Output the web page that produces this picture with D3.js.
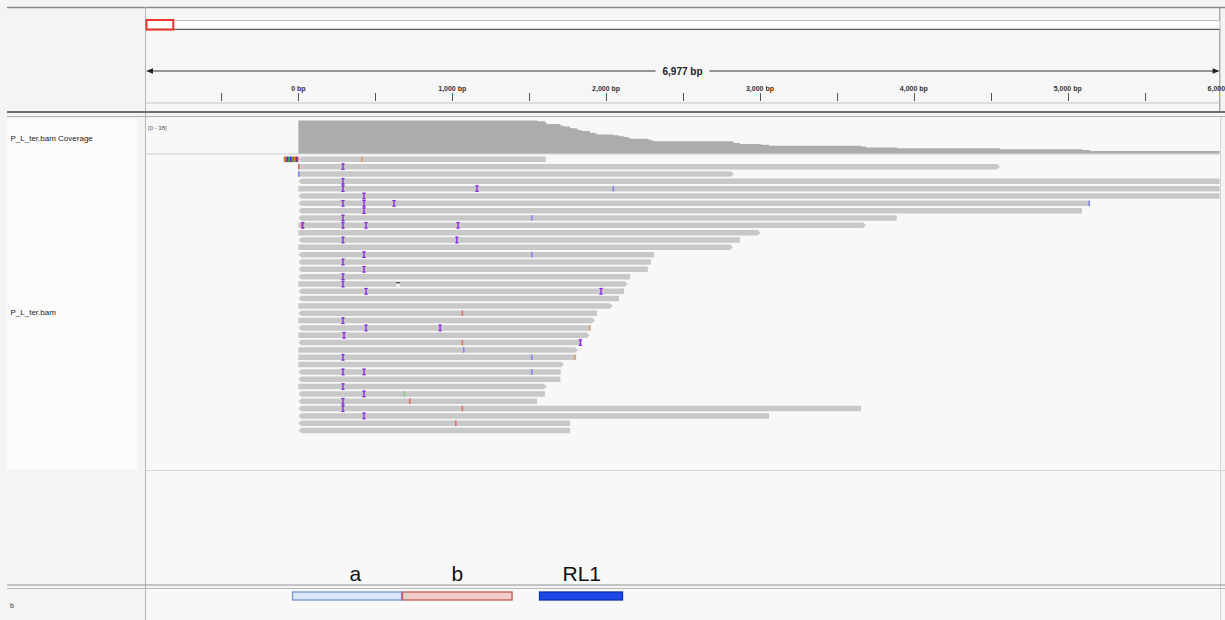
<!DOCTYPE html>
<html>
<head>
<meta charset="utf-8">
<script src="https://cdn.jsdelivr.net/npm/d3@7"></script>
<style>
  html, body { margin: 0; padding: 0; background: #f4f4f4; }
  svg { display: block; font-family: "Liberation Sans", Arial, Helvetica, sans-serif; }
</style>
</head>
<body>
<svg id="igv" width="1225" height="620"></svg>
<script>
// ---- locus / ruler ----
const viewStart = -990;
const viewEnd = 5987;
const spanLabel = "6,977 bp";
const rulerTicks = [-500, 0, 500, 1000, 1500, 2000, 2500, 3000, 3500, 4000, 4500, 5000, 5500];
const labelTicks = [0, 1000, 2000, 3000, 4000, 5000, 6000];
const tickLabels = ["0 bp", "1,000 bp", "2,000 bp", "3,000 bp", "4,000 bp", "5,000 bp", "6,000 bp"];

// ---- alignments (one read per row) ----
const readStarts = [-95, 0, 0, 0, 0, 0, 0, 0, 0, 0, 0, 0, 0, 0, 0, 0, 0, 0, 0,
                    0, 0, 0, 0, 0, 0, 0, 0, 0, 0, 0, 0, 0, 0, 0, 0, 0, 0, 0];
const readEnds = [1608, 4560, 2831, 6500, 6800, 7000, 5145, 5093, 3889, 3689, 3005, 2870, 2825,
                  2312, 2292, 2271, 2156, 2141, 2117, 2084, 2043, 1941, 1928, 1896, 1893, 1842,
                  1818, 1811, 1727, 1705, 1703, 1614, 1603, 1551, 3657, 3059, 1766, 1766];
const readStrands = ["-", "+", "+", "-", "+", "-", "-", "-", "-", "+", "+", "-", "+",
                     "-", "-", "-", "-", "+", "-", "-", "+", "-", "+", "-", "+", "-",
                     "+", "+", "+", "-", "-", "+", "-", "-", "-", "-", "-", "-"];
const softClipBases = ["G", "T", "C", "A", "C", "T", "A", "G", "C", "T"];

// insertions: row index / position
const insertionRows = [1, 3, 4, 4, 5, 6, 6, 6, 7, 8, 9, 9, 9, 9, 11, 11, 13, 14, 15, 16, 17,
                       18, 18, 22, 23, 23, 24, 25, 27, 29, 29, 31, 32, 33, 34, 35];
const insertionPos = [290, 290, 290, 1161, 427, 290, 427, 622, 427, 290, 29, 290, 440, 1038, 290, 1030, 427, 290, 427, 290, 290,
                      440, 1967, 290, 440, 921, 297, 1833, 290, 290, 427, 290, 427, 290, 290, 427];

// mismatches: row index / position / base
const mismatchRows = [0, 1, 2, 4, 6, 8, 9, 13, 21, 23, 25, 26, 27, 27, 29, 32, 33, 34, 36];
const mismatchPos = [412, 3, 3, 2047, 5140, 1517, 22, 1517, 1066, 1894, 1066, 1075, 1517, 1798, 1517, 689, 724, 1066, 1023];
const mismatchBases = ["G", "T", "C", "C", "C", "C", "T", "C", "T", "G", "T", "C", "C", "G", "C", "A", "T", "T", "T"];

// deletions
const deletionRows = [17];
const deletionPos = [648];

// ---- feature track ----
const featureNames = ["a", "b", "RL1"];
const featureStarts = [-41, 674, 1564];
const featureEnds = [674, 1392, 2110];
const featureLabelPos = [370, 1033, 1842];
const featureFills = ["#dbe5f5", "#f3cbc8", "#1d47e6"];
const featureStrokes = ["#7596cc", "#b85a55", "#0b2fb8"];

const baseColors = { A: "#80d080", C: "#8585f0", G: "#d2a46c", T: "#e56a6a" };

const svg = d3.select("#igv");

// ---- geometry ----
const dataLeft = 146, dataRight = 1219.6;
const x = d3.scaleLinear().domain([viewStart, viewEnd]).range([dataLeft, dataRight]);
const nRows = readEnds.length;
const rowStep = 7.33;
const rowH = 5.5;
const rowY = d3.scaleLinear().domain([0, nRows]).range([156.6, 156.6 + nRows * rowStep]);

// ---- background panels ----
svg.append("rect").attr("width", 1225).attr("height", 620).attr("fill", "#f4f4f4");
svg.append("rect").attr("x", dataLeft).attr("y", 8).attr("width", dataRight - dataLeft).attr("height", 104).attr("fill", "#f6f6f6");
svg.append("rect").attr("x", 7).attr("y", 119).attr("width", 130).attr("height", 350).attr("fill", "#fbfbfb");
svg.append("rect").attr("x", dataLeft).attr("y", 118).attr("width", dataRight - dataLeft).attr("height", 467).attr("fill", "#f8f8f8");
svg.append("rect").attr("x", dataLeft).attr("y", 589).attr("width", 1225 - dataLeft).attr("height", 31).attr("fill", "#f8f8f8");

// frame lines
svg.append("line").attr("x1", 7).attr("x2", 1225).attr("y1", 7.5).attr("y2", 7.5).attr("stroke", "#8a8a8a").attr("stroke-width", 1.5);
svg.append("line").attr("x1", 145.5).attr("x2", 145.5).attr("y1", 7).attr("y2", 620).attr("stroke", "#b5b5b5");
svg.append("line").attr("x1", 1219.8).attr("x2", 1219.8).attr("y1", 7).attr("y2", 112).attr("stroke", "#8a8a8a");
svg.append("line").attr("x1", 1220.5).attr("x2", 1220.5).attr("y1", 117).attr("y2", 620).attr("stroke", "#d4d4d4");
svg.append("line").attr("x1", 7).attr("x2", 1225).attr("y1", 112).attr("y2", 112).attr("stroke", "#6e6e6e").attr("stroke-width", 2);
svg.append("line").attr("x1", 7).attr("x2", 1225).attr("y1", 116.5).attr("y2", 116.5).attr("stroke", "#b0b0b0");
svg.append("line").attr("x1", dataLeft).attr("x2", dataRight).attr("y1", 154).attr("y2", 154).attr("stroke", "#d0d0d0");
svg.append("line").attr("x1", dataLeft).attr("x2", 1225).attr("y1", 470.5).attr("y2", 470.5).attr("stroke", "#d6d6d6");
svg.append("line").attr("x1", 7).attr("x2", 1225).attr("y1", 585).attr("y2", 585).attr("stroke", "#8f8f8f").attr("stroke-width", 1.2);
svg.append("line").attr("x1", 7).attr("x2", 1225).attr("y1", 588.5).attr("y2", 588.5).attr("stroke", "#b8b8b8");

// ---- chromosome ideogram ----
svg.append("rect").attr("x", dataLeft).attr("y", 20.5).attr("width", dataRight - dataLeft).attr("height", 8.5)
  .attr("fill", "#ffffff");
svg.append("line").attr("x1", dataLeft).attr("x2", dataRight).attr("y1", 20.5).attr("y2", 20.5).attr("stroke", "#bdbdbd");
svg.append("line").attr("x1", dataLeft).attr("x2", dataRight).attr("y1", 29.3).attr("y2", 29.3).attr("stroke", "#5a5a5a").attr("stroke-width", 1.3);
svg.append("rect").attr("x", 146.5).attr("y", 20).attr("width", 26.8).attr("height", 9.6)
  .attr("fill", "none").attr("stroke", "#e8372c").attr("stroke-width", 2);

// ---- ruler ----
const ruler = svg.append("g");
ruler.append("line").attr("x1", dataLeft + 4).attr("x2", dataRight - 4).attr("y1", 71).attr("y2", 71)
  .attr("stroke", "#333").attr("stroke-width", 1);
ruler.append("path").attr("d", `M${dataLeft},71 L${dataLeft + 7},68.3 L${dataLeft + 7},73.7 Z`).attr("fill", "#222");
ruler.append("path").attr("d", `M${dataRight},71 L${dataRight - 7},68.3 L${dataRight - 7},73.7 Z`).attr("fill", "#222");
const mid = (dataLeft + dataRight) / 2 - 0.3;
ruler.append("rect").attr("x", mid - 27).attr("y", 64).attr("width", 54).attr("height", 14).attr("fill", "#f6f6f6");
ruler.append("text").attr("x", mid).attr("y", 74.6).attr("text-anchor", "middle")
  .attr("font-size", 10).attr("font-weight", "bold").attr("fill", "#222").text(spanLabel);

ruler.append("line").attr("x1", dataLeft).attr("x2", dataRight).attr("y1", 103).attr("y2", 103)
  .attr("stroke", "#c4c4c4");
ruler.selectAll("line.tick").data(rulerTicks.concat(labelTicks.filter(v => rulerTicks.indexOf(v) < 0 && x(v) < dataRight)))
  .join("line").attr("class", "tick")
  .attr("x1", d => Math.round(x(d)) + 0.5).attr("x2", d => Math.round(x(d)) + 0.5)
  .attr("y1", 93).attr("y2", 101).attr("stroke", "#555").attr("stroke-width", 1);
ruler.selectAll("text.tl").data(labelTicks).join("text").attr("class", "tl")
  .attr("x", d => x(d)).attr("y", 90.7).attr("text-anchor", "middle")
  .attr("font-size", 7).attr("font-weight", "bold").attr("fill", "#333")
  .text((d, i) => tickLabels[i]);

// ---- track names ----
svg.append("text").attr("x", 10.5).attr("y", 140.6).attr("font-size", 8).attr("fill", "#222").text("P_L_ter.bam Coverage");
svg.append("text").attr("x", 10.5).attr("y", 314.6).attr("font-size", 8).attr("fill", "#222").text("P_L_ter.bam");
svg.append("text").attr("x", 10).attr("y", 607.5).attr("font-size", 7).attr("fill", "#333").text("b");
svg.append("text").attr("x", 148).attr("y", 129.6).attr("font-size", 6).attr("fill", "#555").text("[0 - 38]");

// ---- clip for data area ----
svg.append("clipPath").attr("id", "dataClip").append("rect")
  .attr("x", dataLeft).attr("y", 118).attr("width", dataRight - dataLeft).attr("height", 352);

// ---- coverage (computed from the alignments) ----
const events = [];
readStarts.forEach((s, i) => { events.push([Math.max(0, s), 1]); events.push([readEnds[i], -1]); });
events.sort((a, b) => a[0] - b[0]);
const covPts = [[viewStart, 0]];
let depth = 0;
events.forEach(e => { depth += e[1]; covPts.push([e[0], depth]); });
covPts.push([viewEnd + 2000, depth]);
const maxCov = 38;
const yc = d3.scaleLinear().domain([0, maxCov]).range([153.5, 120.5]);
svg.append("path").attr("clip-path", "url(#dataClip)")
  .datum(covPts)
  .attr("d", d3.area().curve(d3.curveStepAfter).x(d => x(d[0])).y0(yc(0)).y1(d => yc(d[1])))
  .attr("fill", "#acacac");

// ---- reads ----
const reads = d3.range(nRows).map(i => ({ i, s: Math.max(0, readStarts[i]), e: readEnds[i], strand: readStrands[i] }));
const rg = svg.append("g").attr("clip-path", "url(#dataClip)");
rg.selectAll("path.read").data(reads).join("path").attr("class", "read")
  .attr("d", d => {
    const x0 = x(d.s), x1 = x(d.e), t = rowY(d.i), b = t + rowH, m = t + rowH / 2;
    return d.strand === "-"
      ? `M${x0},${m} L${x0 + 3},${t} L${x1},${t} L${x1},${b} L${x0 + 3},${b} Z`
      : `M${x0},${t} L${x1 - 3},${t} L${x1},${m} L${x1 - 3},${b} L${x0},${b} Z`;
  })
  .attr("fill", "#c8c8c8");

// soft-clipped bases on the first read
const clipW = (0 - readStarts[0]) / softClipBases.length;
rg.selectAll("rect.clip").data(softClipBases).join("rect").attr("class", "clip")
  .attr("x", (d, k) => x(readStarts[0] + k * clipW))
  .attr("width", (d, k) => x(readStarts[0] + (k + 1) * clipW) - x(readStarts[0] + k * clipW) + 0.2)
  .attr("y", rowY(0)).attr("height", rowH)
  .attr("fill", d => ({ A: "#2fa82f", C: "#3b3bd9", G: "#c98a2c", T: "#d83a3a" })[d]);

// mismatches
rg.selectAll("rect.mm").data(mismatchPos.map((p, k) => ({ p, r: mismatchRows[k], b: mismatchBases[k] })))
  .join("rect").attr("class", "mm")
  .attr("x", d => x(d.p) - 0.8).attr("width", 1.6)
  .attr("y", d => rowY(d.r)).attr("height", rowH)
  .attr("fill", d => baseColors[d.b]);

// deletions
deletionPos.forEach((p, k) => {
  const t = rowY(deletionRows[k]);
  rg.append("rect").attr("x", x(p) - 1.5).attr("width", 3).attr("y", t).attr("height", rowH).attr("fill", "#f8f8f8");
  rg.append("line").attr("x1", x(p) - 1.8).attr("x2", x(p) + 1.8).attr("y1", t + 1.5).attr("y2", t + 1.5)
    .attr("stroke", "#222").attr("stroke-width", 1.2);
});

// insertions
const ins = rg.selectAll("g.ins").data(insertionPos.map((p, k) => ({ p, r: insertionRows[k] })))
  .join("g").attr("class", "ins")
  .attr("transform", d => `translate(${x(d.p)},${rowY(d.r)})`);
ins.append("rect").attr("x", -0.7).attr("width", 1.4).attr("y", -0.6).attr("height", rowH + 1.2).attr("fill", "#8a2be2");
ins.append("rect").attr("x", -1.7).attr("width", 3.4).attr("y", -0.6).attr("height", 1.2).attr("fill", "#8a2be2");
ins.append("rect").attr("x", -1.7).attr("width", 3.4).attr("y", rowH - 0.6).attr("height", 1.2).attr("fill", "#8a2be2");

// ---- feature track ----
const feats = featureNames.map((n, k) => ({ n, s: featureStarts[k], e: featureEnds[k], lp: featureLabelPos[k], f: featureFills[k], st: featureStrokes[k] }));
svg.selectAll("rect.feat").data(feats).join("rect").attr("class", "feat")
  .attr("x", d => x(d.s) + 0.5).attr("width", d => x(d.e) - x(d.s) - 1)
  .attr("y", 592).attr("height", 8)
  .attr("fill", d => d.f).attr("stroke", d => d.st).attr("stroke-width", 1.3);
svg.selectAll("text.feat").data(feats).join("text").attr("class", "feat")
  .attr("x", d => x(d.lp)).attr("y", 580.5).attr("text-anchor", "middle")
  .attr("font-size", 21).attr("fill", "#111")
  .text(d => d.n);
</script>
</body>
</html>
